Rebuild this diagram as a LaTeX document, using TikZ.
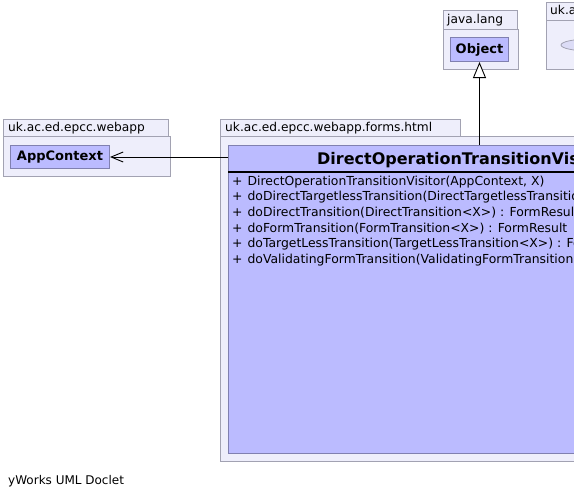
\documentclass[tikz,border=0pt]{standalone}
\usepackage{fontspec}
\setmainfont{DejaVu Sans}
\usetikzlibrary{arrows.meta,shapes.geometric}
\definecolor{pkgfill}{HTML}{EEEEFB}
\definecolor{pkgdraw}{HTML}{A2A2B2}
\definecolor{clsfill}{HTML}{BBBBFF}
\definecolor{clsdraw}{HTML}{8080B0}
\definecolor{ellfill}{HTML}{DCDCF6}
\tikzset{
  pkgbox/.style={draw=pkgdraw, fill=pkgfill, line width=1pt, anchor=north west, inner sep=0pt},
  pkglabel/.style={anchor=west, inner sep=0pt, font=\fontsize{12.2}{14}\selectfont},
  clsbox/.style={draw=clsdraw, fill=clsfill, line width=1pt, anchor=north west, inner sep=0pt},
  clsname/.style={font=\bfseries\fontsize{13}{15}\selectfont, inner sep=0pt},
  method/.style={anchor=west, inner sep=0pt, font=\fontsize{12.4}{14}\selectfont},
  conn/.style={line width=0.9pt, black}
}
\newcommand{\plusop}{+\hspace{5pt}}
\begin{document}
\begin{tikzpicture}[x=1pt,y=-1pt]
\useasboundingbox (0,0) rectangle (574,499);
\clip (0,0) rectangle (574,499);
\fill[white] (0,0) rectangle (574,499);

% package java.lang
\node[pkgbox, minimum width=74pt, minimum height=19pt] (jtab) at (443,10) {};
\node[pkgbox, minimum width=75pt, minimum height=40pt] (jbody) at (443,29) {};
\node[pkglabel] (jlab) at (447,20) {java.lang};
\node[clsbox, minimum width=58pt, minimum height=24pt] (obj) at (450,37) {};
\node[clsname] (objname) at (obj.center) {Object};

% package uk.a...
\node[pkgbox, minimum width=60pt, minimum height=18pt] (utab) at (546,2) {};
\node[pkgbox, minimum width=60pt, minimum height=49pt] (ubody) at (546,20) {};
\node[pkglabel] (ulab) at (550,11.5) {uk.ac.ed.epcc.webapp};
\node[draw=pkgdraw, fill=ellfill, line width=0.8pt, ellipse, minimum width=58pt, minimum height=12pt, inner sep=0pt] (uell) at (590,45) {};

% package uk.ac.ed.epcc.webapp
\node[pkgbox, minimum width=165pt, minimum height=17pt] (wtab) at (3,119) {};
\node[pkgbox, minimum width=167pt, minimum height=40pt] (wbody) at (3,136) {};
\node[pkglabel] (wlab) at (8,128) {uk.ac.ed.epcc.webapp};
\node[clsbox, minimum width=99pt, minimum height=23pt] (app) at (10,145) {};
\node[clsname] (appname) at (app.center) {AppContext};

% package uk.ac.ed.epcc.webapp.forms.html
\node[pkgbox, minimum width=240pt, minimum height=17pt] (ftab) at (220,119) {};
\node[pkgbox, minimum width=440pt, minimum height=325pt] (fbody) at (220,136) {};
\node[pkglabel] (flab) at (225,128) {uk.ac.ed.epcc.webapp.forms.html};

% class
\node[clsbox, minimum width=420pt, minimum height=308pt] (cls) at (228,145) {};
\node[anchor=west, inner sep=0pt, font=\bfseries\fontsize{16}{18}\selectfont] (clsname) at (317,160.5) {DirectOperationTransitionVisitor};
\draw[line width=2pt, black] (228,172) -- (648,172);
\node[method] (m1) at (232,181.7) {\plusop DirectOperationTransitionVisitor(AppContext, X)};
\node[method] (m2) at (232,197.2) {\plusop doDirectTargetlessTransition(DirectTargetlessTransition<X>) : FormResult};
\node[method] (m3) at (232,212.8) {\plusop doDirectTransition(DirectTransition<X>) : FormResult};
\node[method] (m4) at (232,228.4) {\plusop doFormTransition(FormTransition<X>) : FormResult};
\node[method] (m5) at (232,244.0) {\plusop doTargetLessTransition(TargetLessTransition<X>) : FormResult};
\node[method] (m6) at (232,259.7) {\plusop doValidatingFormTransition(ValidatingFormTransition<X>) : FormResult};

% connectors
\draw[conn, -{Straight Barb[length=12pt,width=10pt,line width=0.9pt]}] (app.east -| cls.west) -- (app.east);
\draw[conn, -{Triangle[open,length=16pt,width=13pt,fill=white,line width=0.9pt]}] (obj.south |- cls.north) -- (obj.south);

% footer
\node[anchor=west, inner sep=0pt, font=\fontsize{12}{14}\selectfont] (footer) at (8,481) {yWorks UML Doclet};
\end{tikzpicture}
\end{document}
